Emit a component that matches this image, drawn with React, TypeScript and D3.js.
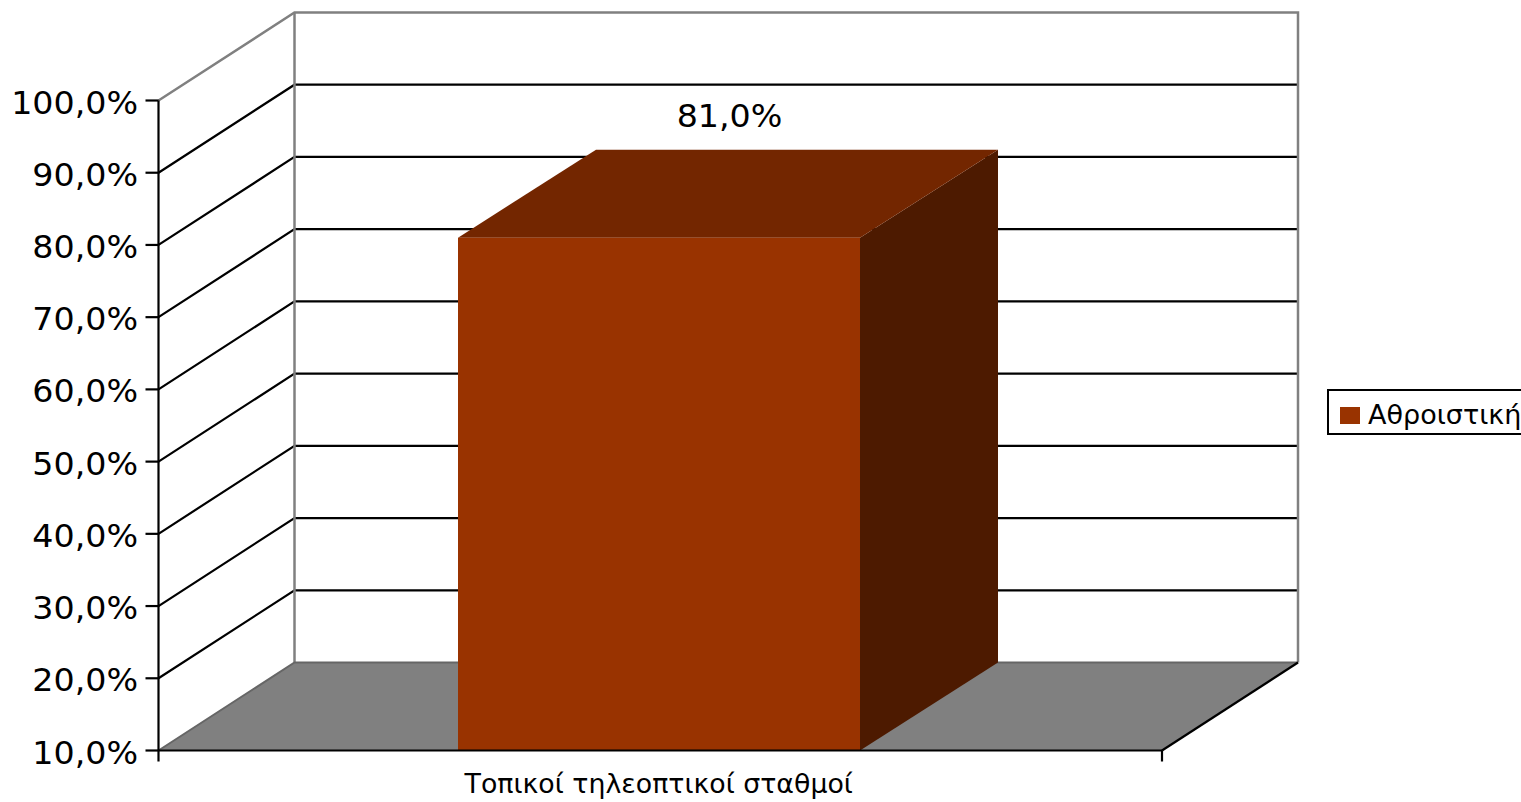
import React from "react";
import * as d3 from "d3";

const categories = ["Τοπικοί τηλεοπτικοί σταθμοί"];
const seriesName = "Αθροιστική";
const seriesValues = [81.0];
const yTicks = [10, 20, 30, 40, 50, 60, 70, 80, 90, 100];

const fmt = (v: number) => v.toFixed(1).replace(".", ",") + "%";
const FONT = "'DejaVu Sans', Verdana, sans-serif";

export default function App() {
  const y = d3.scaleLinear().domain([10, 100]).range([750.5, 100.5]);
  const x = d3.scaleBand().domain(categories).range([158.5, 1162]).paddingInner(0).paddingOuter(0.3);
  const dx = 136;
  const dy = -88;
  const line = d3.line();
  const poly = (pts: [number, number][]) => line(pts)! + "Z";

  const x0 = 158.5;
  const x1 = 1162;
  const y0 = y(10);
  const y100 = y(100);

  const barX0 = 458;
  const barX1 = 860;
  const barDx = 138;
  const barDy = -88;
  const barTop = y(seriesValues[0]);
  const hs = 1.04;

  return (
    <svg width={1521} height={802} style={{ position: "absolute", left: 0, top: 0, background: "#fff" }}>
      {/* floor */}
      <path d={poly([[x0, y0], [x0 + dx, y0 + dy], [x1 + dx, y0 + dy], [x1, y0]])} fill="#808080" stroke="none" />
      {/* gridlines */}
      {yTicks.filter((t) => t > 10 && t < 100).map((t) => (
        <path key={t} d={line([[x0, y(t)], [x0 + dx, y(t) + dy], [x1 + dx, y(t) + dy]])!} fill="none" stroke="#000" strokeWidth={2.2} />
      ))}
      {/* wall outlines */}
      <path d={line([[x0, y100], [x0 + dx, y100 + dy], [x1 + dx, y100 + dy], [x1 + dx, y0 + dy]])!} fill="none" stroke="#808080" strokeWidth={2.5} />
      <path d={line([[x0 + dx, y100 + dy], [x0 + dx, y0 + dy]])!} fill="none" stroke="#808080" strokeWidth={2.5} />
      <path d={line([[x0, y0], [x0 + dx, y0 + dy], [x1 + dx, y0 + dy]])!} fill="none" stroke="#666" strokeWidth={2} />
      <path d={line([[x1 + dx, y0 + dy], [x1, y0]])!} fill="none" stroke="#000" strokeWidth={2.2} />
      {/* bar */}
      <path d={poly([[barX1, barTop], [barX1 + barDx, barTop + barDy], [barX1 + barDx, y0 + barDy], [barX1, y0]])} fill="#4D1A00" />
      <path d={poly([[barX0, barTop], [barX0 + barDx, barTop + barDy], [barX1 + barDx, barTop + barDy], [barX1, barTop]])} fill="#732600" />
      <rect x={barX0} y={barTop} width={barX1 - barX0} height={y0 - barTop} fill="#993300" />
      {/* axes */}
      <line x1={x0} x2={x0} y1={y100} y2={y0 + 11} stroke="#000" strokeWidth={2.2} />
      <line x1={x0} x2={x1} y1={y0} y2={y0} stroke="#000" strokeWidth={2.2} />
      <line x1={x1} x2={x1} y1={y0} y2={y0 + 11} stroke="#000" strokeWidth={2.2} />
      {yTicks.map((t) => (
        <g key={t}>
          <line x1={x0 - 13} x2={x0} y1={y(t)} y2={y(t)} stroke="#000" strokeWidth={2.2} />
          <text transform={`translate(138,${y(t) + 13}) scale(${hs},1)`} textAnchor="end" fontFamily={FONT} fontSize={32} fill="#000">{fmt(t)}</text>
        </g>
      ))}
      {/* data label */}
      <text transform={`translate(729.5,127) scale(${hs},1)`} textAnchor="middle" fontFamily={FONT} fontSize={32} fill="#000">{fmt(seriesValues[0])}</text>
      {/* category */}
      <text x={x(categories[0])! + x.bandwidth() / 2 - 1.5} y={793} textAnchor="middle" fontFamily={FONT} fontSize={26.8} fill="#000">{categories[0]}</text>
      {/* legend */}
      <rect x={1328} y={390} width={200} height={44} fill="#fff" stroke="#000" strokeWidth={2} />
      <rect x={1340} y={407} width={20} height={17} fill="#993300" />
      <text x={1368} y={424} fontFamily={FONT} fontSize={27} fill="#000">{seriesName}</text>
    </svg>
  );
}
